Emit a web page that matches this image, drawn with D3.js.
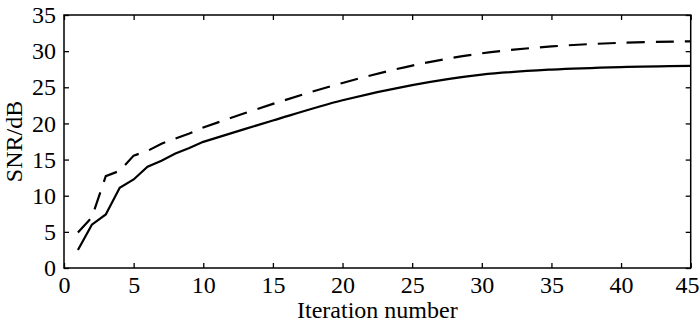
<!DOCTYPE html>
<html>
  <head>
    <meta charset="utf-8" />
    <title>SNR vs iteration</title>
    <script src="https://cdn.jsdelivr.net/npm/d3@7"></script>
    <style>
      body { margin: 0; background: #fff; }
      text { font-family: "Liberation Serif", "Times New Roman", serif; fill: #000; }
    </style>
  </head>
  <body>
    <script>
      // values
      const iterations = [1, 2, 3, 4, 5, 6, 7, 8, 9, 10, 15, 20, 25, 30, 35, 40, 45];
      const snrSolid = [2.5, 6.0, 7.4, 11.1, 12.25, 14.0, 14.85, 15.85, 16.6, 17.45, 20.4, 23.2, 25.3, 26.75, 27.45, 27.8, 27.95];
      const snrDashed = [4.9, 7.0, 12.7, 13.45, 15.55, 16.2, 17.2, 17.9, 18.6, 19.45, 22.7, 25.6, 28.0, 29.7, 30.65, 31.15, 31.35];
      const xTicks = [0, 5, 10, 15, 20, 25, 30, 35, 40, 45];
      const yTicks = [0, 5, 10, 15, 20, 25, 30, 35];

      const w = 700;
      const h = 325;
      const pLeft = 64, pRight = 690.7, pTop = 15, pBottom = 268;
      const serif = '"Liberation Serif", "Times New Roman", serif';

      const svg = d3.select("body").append("svg").attr("width", w).attr("height", h);

      const x = d3.scaleLinear().domain([0, 45]).range([pLeft, pRight]);
      const y = d3.scaleLinear().domain([0, 35]).range([pBottom, pTop]);

      // axes with inward ticks on all four sides
      const tickLen = 5;
      const axisStyle = function (g) {
        g.attr("font-family", null).attr("font-size", null);
        g.select(".domain").remove();
        g.selectAll(".tick line").attr("stroke", "#000").attr("stroke-width", 1.3);
        g.selectAll(".tick text")
          .style("font-family", serif)
          .style("font-size", "24px")
          .attr("fill", "#000");
      };

      const xAxisG = svg.append("g")
        .attr("transform", `translate(0,${pBottom})`)
        .call(d3.axisBottom(x).tickValues(xTicks).tickSizeInner(-tickLen).tickSizeOuter(0).tickPadding(8))
        .call(axisStyle);
      // last label sits against the right edge
      xAxisG.selectAll(".tick text")
        .filter(d => d === 45)
        .attr("text-anchor", "end")
        .attr("x", w - 1 - pRight);

      svg.append("g")
        .attr("transform", `translate(0,${pTop})`)
        .call(d3.axisTop(x).tickValues(xTicks).tickSizeInner(-tickLen).tickSizeOuter(0).tickFormat(""))
        .call(axisStyle);

      svg.append("g")
        .attr("transform", `translate(${pLeft},0)`)
        .call(d3.axisLeft(y).tickValues(yTicks).tickSizeInner(-tickLen).tickSizeOuter(0).tickPadding(8))
        .call(axisStyle);

      svg.append("g")
        .attr("transform", `translate(${pRight},0)`)
        .call(d3.axisRight(y).tickValues(yTicks).tickSizeInner(-tickLen).tickSizeOuter(0).tickFormat(""))
        .call(axisStyle);

      // frame
      svg.append("rect")
        .attr("x", pLeft).attr("y", pTop)
        .attr("width", pRight - pLeft).attr("height", pBottom - pTop)
        .attr("fill", "none").attr("stroke", "#000").attr("stroke-width", 1.5);

      // first ten iterations are a polyline, the tail is smooth
      function drawSeries(vals, dash) {
        const pts = iterations.map((it, i) => [it, vals[i]]);
        const head = pts.filter(p => p[0] <= 10);
        const tail = pts.filter(p => p[0] >= 10);
        const lineHead = d3.line().x(d => x(d[0])).y(d => y(d[1]));
        const lineTail = d3.line().x(d => x(d[0])).y(d => y(d[1])).curve(d3.curveCatmullRom.alpha(0.5));
        const d = lineHead(head) + lineTail(tail).replace(/^M[^LC]*/, "");
        svg.append("path")
          .attr("d", d)
          .attr("fill", "none")
          .attr("stroke", "#000")
          .attr("stroke-width", 2.2)
          .attr("stroke-dasharray", dash);
      }
      drawSeries(snrSolid, null);
      drawSeries(snrDashed, "18,11");

      // axis titles
      svg.append("text")
        .attr("x", (pLeft + pRight) / 2)
        .attr("y", 318)
        .attr("text-anchor", "middle")
        .style("font-family", serif)
        .style("font-size", "24px")
        .text("Iteration number");

      svg.append("text")
        .attr("transform", `translate(22,${(pTop + pBottom) / 2}) rotate(-90)`)
        .attr("text-anchor", "middle")
        .style("font-family", serif)
        .style("font-size", "24px")
        .text("SNR/dB");
    </script>
  </body>
</html>
